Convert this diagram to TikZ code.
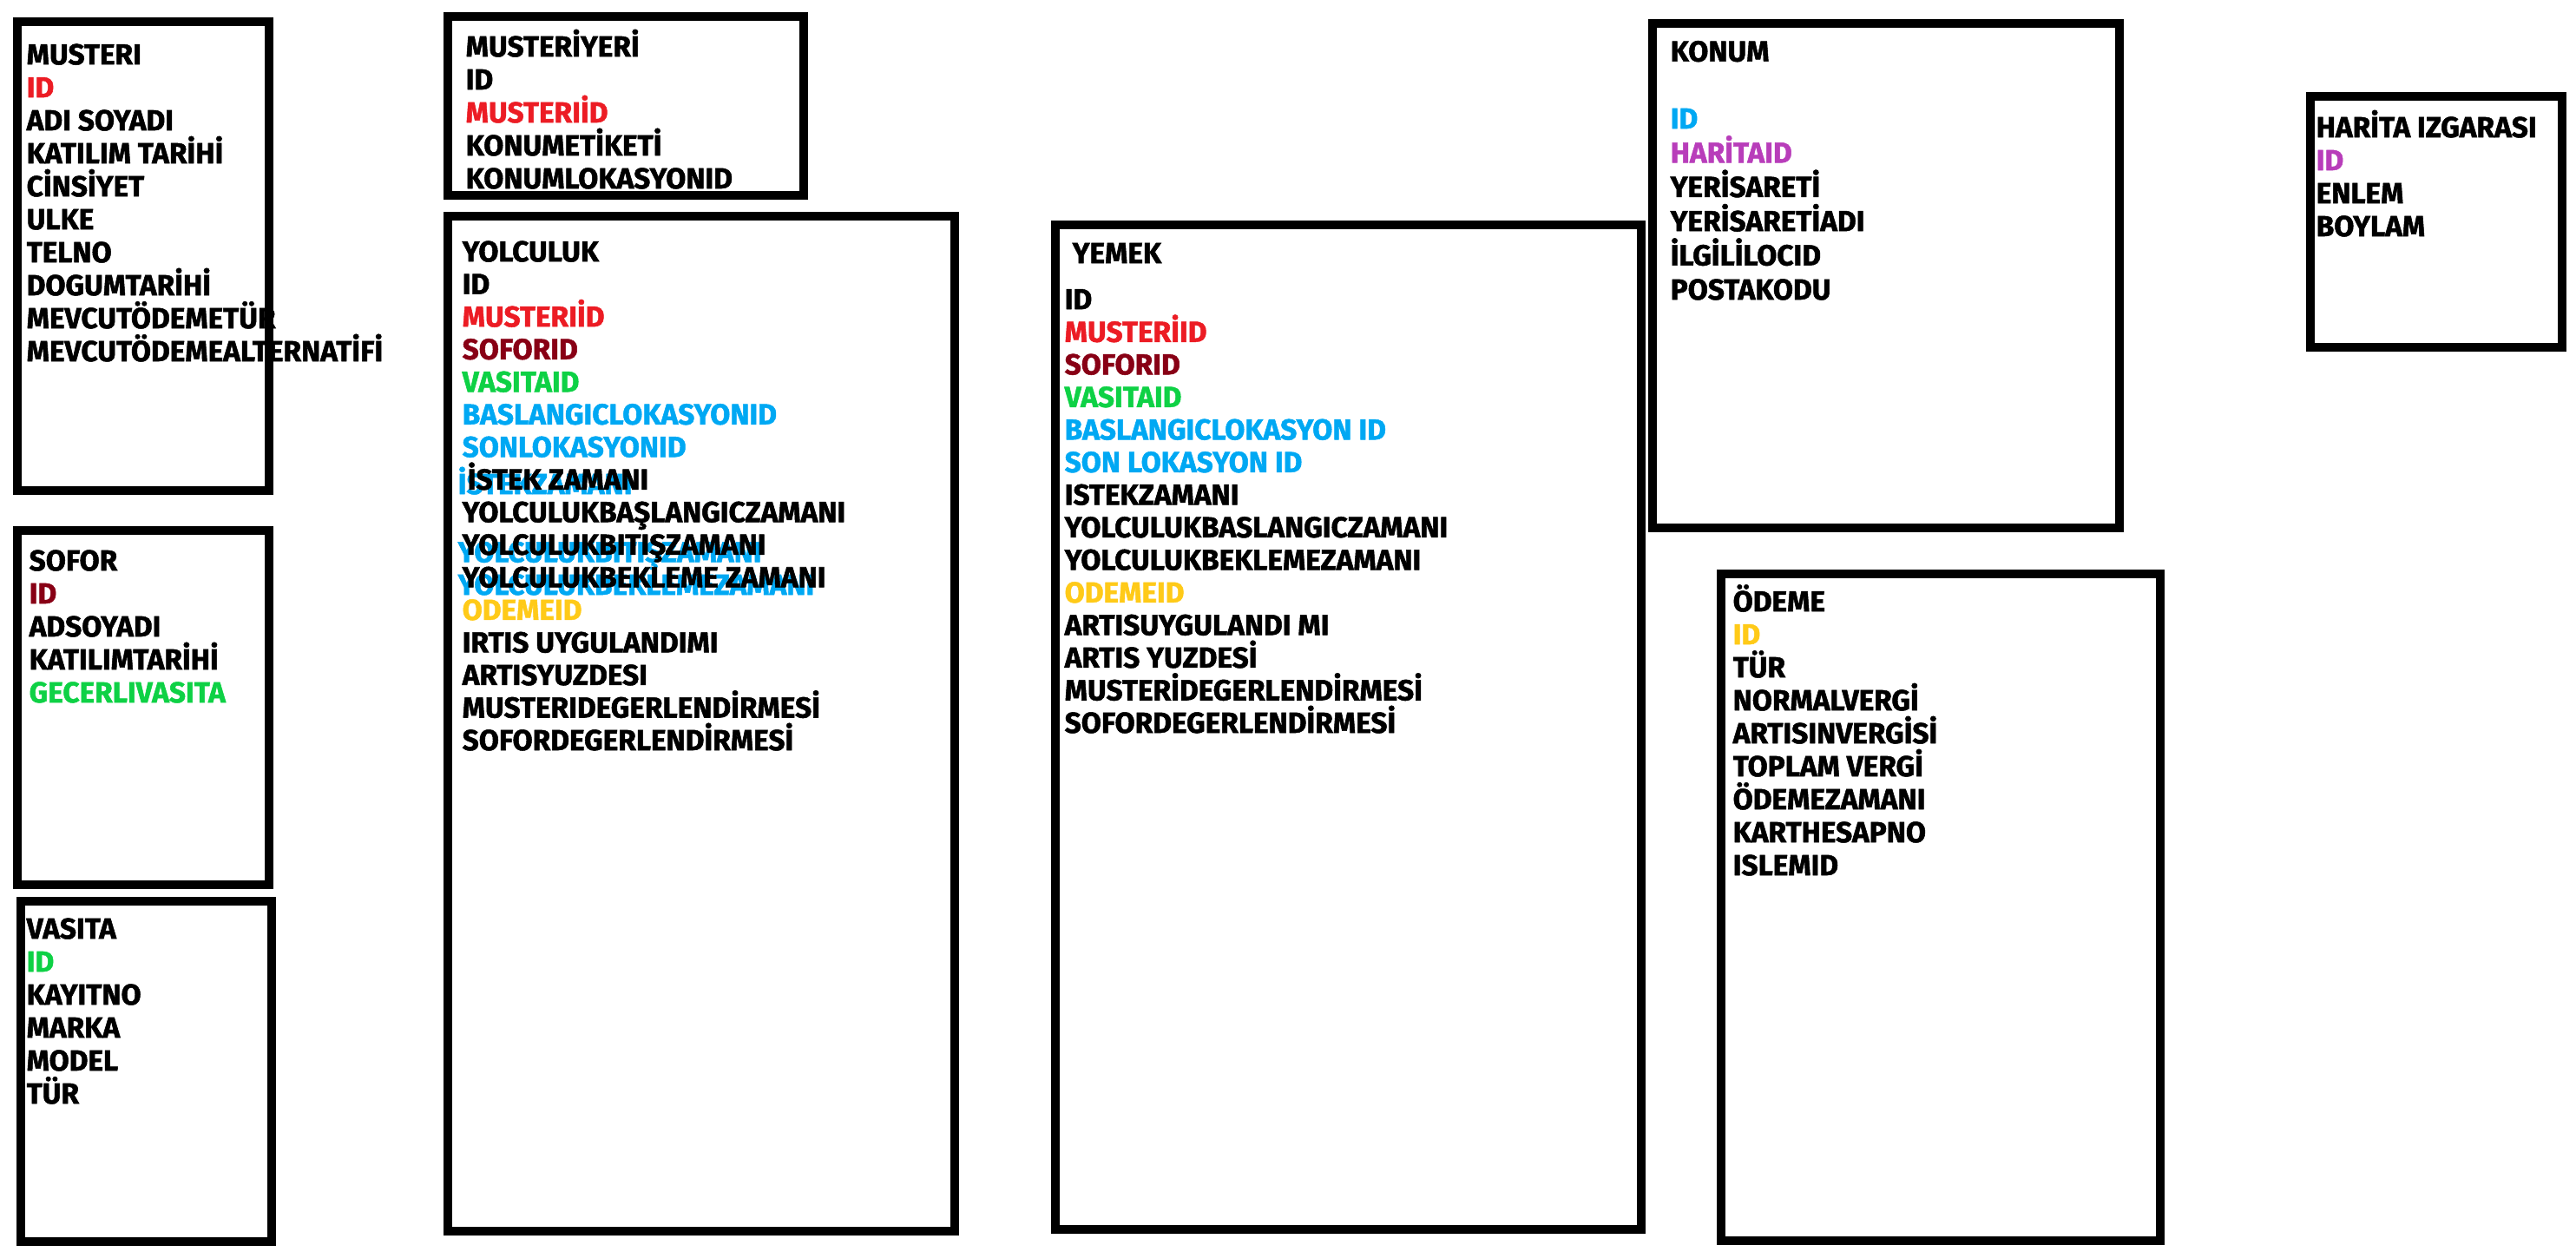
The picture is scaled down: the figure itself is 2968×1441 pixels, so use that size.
\documentclass[tikz,border=0pt]{standalone}
\usepackage{fontspec}
\setmainfont{Fira Sans}[BoldFeatures={FakeBold=1.5}]
\usepackage{xcolor}
\usepackage{tikz}
\definecolor{kirmizi}{HTML}{EC1C24}
\definecolor{bordo}{HTML}{880015}
\definecolor{yesil}{HTML}{0ED145}
\definecolor{mavi}{HTML}{00A8F3}
\definecolor{sari}{HTML}{FFCA18}
\definecolor{mor}{HTML}{B83DBA}

\begin{document}
\begin{tikzpicture}[x=0.01cm, y=-0.01cm,
	satir/.style={anchor=base west, align=left, inner sep=0pt,
		font=\fontsize{9.5}{10.8}\selectfont\bfseries},
	sikisik/.style={font=\fontsize{9.5}{10.67}\selectfont\bfseries},
	tablo/.style={draw=black, line width=0.1cm}]
	\useasboundingbox (0,0) rectangle (2968,1441);
	% tablolarin alanlari (konum: son satirin tabani)
	\node[satir] (musteri) at (30,416) {MUSTERI\\ \textcolor{kirmizi}{ID}\\ ADI SOYADI\\ KATILIM TARİHİ\\ CİNSİYET\\ ULKE\\ TELNO\\ DOGUMTARİHİ\\ MEVCUTÖDEMETÜR\\ MEVCUTÖDEMEALTERNATİFİ};
	\node[satir] (sofor) at (33,809) {SOFOR\\ \textcolor{bordo}{ID}\\ ADSOYADI\\ KATILIMTARİHİ\\ \textcolor{yesil}{GECERLIVASITA}};
	\node[satir] (vasita) at (30,1271) {VASITA\\ \textcolor{yesil}{ID}\\ KAYITNO\\ MARKA\\ MODEL\\ TÜR};
	\node[satir] (musteriyeri) at (536,217) {MUSTERİYERİ\\ ID\\ \textcolor{kirmizi}{MUSTERIİD}\\ KONUMETİKETİ\\ KONUMLOKASYONID};
	\node[satir, sikisik, text=mavi] (golge1) at (527,569) {İSTEKZAMANI};
	\node[satir, sikisik, text=mavi] (golge2) at (527,685) {YOLCULUKBITIŞZAMANI\\ YOLCULUKBEKLEMEZAMANI};
	\node[satir, sikisik] (yolculuk) at (532,864) {YOLCULUK\\ ID\\ \textcolor{kirmizi}{MUSTERIİD}\\ \textcolor{bordo}{SOFORID}\\ \textcolor{yesil}{VASITAID}\\ \textcolor{mavi}{BASLANGICLOKASYONID}\\ \textcolor{mavi}{SONLOKASYONID}\\ \hspace*{0.06cm}İSTEK ZAMANI\\ YOLCULUKBAŞLANGICZAMANI\\ YOLCULUKBITIŞZAMANI\\ YOLCULUKBEKLEME ZAMANI\\ \textcolor{sari}{ODEMEID}\\ IRTIS UYGULANDIMI\\ ARTISYUZDESI\\ MUSTERIDEGERLENDİRMESİ\\ SOFORDEGERLENDİRMESİ};
	\node[satir] (yemekbaslik) at (1235,303) {YEMEK};
	\node[satir, sikisik] (yemek) at (1226,844) {ID\\ \textcolor{kirmizi}{MUSTERİID}\\ \textcolor{bordo}{SOFORID}\\ \textcolor{yesil}{VASITAID}\\ \textcolor{mavi}{BASLANGICLOKASYON ID}\\ \textcolor{mavi}{SON LOKASYON ID}\\ ISTEKZAMANI\\ YOLCULUKBASLANGICZAMANI\\ YOLCULUKBEKLEMEZAMANI\\ \textcolor{sari}{ODEMEID}\\ ARTISUYGULANDI MI\\ ARTIS YUZDESİ\\ MUSTERİDEGERLENDİRMESİ\\ SOFORDEGERLENDİRMESİ};
	\node[satir, font=\fontsize{9.5}{11.2}\selectfont\bfseries] (konum) at (1924,345) {KONUM\\[10.8pt] \textcolor{mavi}{ID}\\ \textcolor{mor}{HARİTAID}\\ YERİSARETİ\\ YERİSARETİADI\\ İLGİLİLOCID\\ POSTAKODU};
	\node[satir] (odeme) at (1996,1008) {ÖDEME\\ \textcolor{sari}{ID}\\ TÜR\\ NORMALVERGİ\\ ARTISINVERGİSİ\\ TOPLAM VERGİ\\ ÖDEMEZAMANI\\ KARTHESAPNO\\ ISLEMID};
	\node[satir] (harita) at (2668,272) {HARİTA IZGARASI\\ \textcolor{mor}{ID}\\ ENLEM\\ BOYLAM};
	% cerceveler
	\draw[tablo] (20,25) rectangle (310,565);
	\draw[tablo] (20,611) rectangle (310,1019);
	\draw[tablo] (24,1038) rectangle (313,1430);
	\draw[tablo] (516,19) rectangle (926,225);
	\draw[tablo] (516,249) rectangle (1100,1418);
	\draw[tablo] (1216,259) rectangle (1891,1416);
	\draw[tablo] (1904,27) rectangle (2442,608);
	\draw[tablo] (2662,111) rectangle (2952,400);
	\draw[tablo] (1983,661) rectangle (2489,1429);
\end{tikzpicture}
\end{document}
